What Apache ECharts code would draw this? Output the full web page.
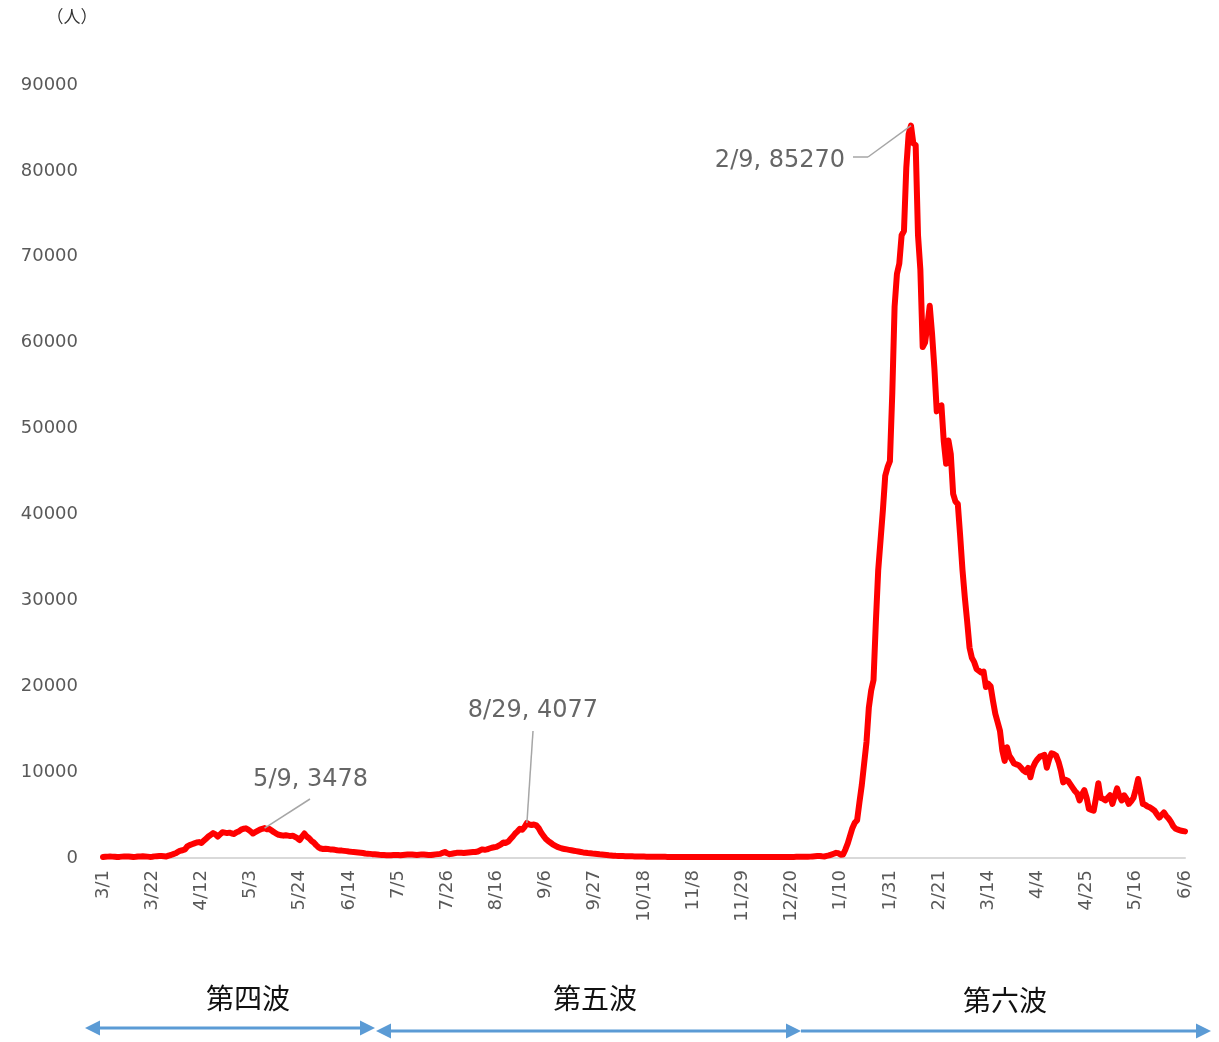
<!DOCTYPE html>
<html><head><meta charset="utf-8">
<script src="https://cdn.jsdelivr.net/npm/echarts@6/dist/echarts.min.js"></script>
<style>html,body{margin:0;padding:0;background:#fff}#c{width:1219px;height:1042px}</style>
</head><body><div id="c"></div>
<script>
// daily values, one array per month (2021/3/1 .. 2022/6/6)
const m2021_03 = [120,150,160,170,160,140,110,130,160,170,180,170,150,120,140,170,180,190,180,160,130,150,190,210,230,220,200,170,280,350,450];
const m2021_04 = [550,700,850,900,1000,1350,1500,1600,1700,1800,1850,1750,2000,2250,2500,2700,2900,2750,2500,2750,3000,2950,2900,2950,2850,2800,3000,3100,3300,3400];
const m2021_05 = [3450,3300,3100,2850,3000,3150,3300,3400,3478,3350,3400,3200,3000,2850,2700,2650,2600,2650,2600,2550,2600,2450,2300,2100,2500,2850,2500,2300,2000,1800,1500];
const m2021_06 = [1250,1100,1050,1080,1050,1000,980,950,900,880,860,830,800,750,720,700,680,650,620,580,520,500,480,450,430,400,370,350,340,330];
const m2021_07 = [320,330,350,360,340,320,350,380,400,420,400,380,360,390,420,400,380,360,340,380,420,450,480,600,700,550,450,500,550,600,620];
const m2021_08 = [600,580,620,650,680,700,700,750,900,1000,950,1000,1100,1200,1250,1300,1450,1600,1800,1750,1900,2200,2500,2850,3100,3400,3300,3600,4077,3900,3850];
const m2021_09 = [3900,3800,3500,3000,2600,2250,2000,1800,1600,1450,1300,1200,1100,1050,1000,950,900,850,800,750,700,650,620,580,550,520,500,470,430,400];
const m2021_10 = [370,340,310,290,270,250,240,230,220,210,200,195,190,185,180,175,170,165,160,155,150,148,145,140,138,135,132,130,128,126,124];
const m2021_11 = [122,120,118,120,122,118,115,112,115,118,120,116,112,110,112,115,118,114,110,108,110,112,115,112,108,106,108,110,112,110];
const m2021_12 = [108,110,112,115,112,108,110,114,118,116,112,110,114,118,120,118,115,118,122,126,130,135,140,145,150,155,150,160,180,200,220];
const m2022_01 = [230,200,180,240,300,400,500,600,550,380,400,1000,1700,2600,3500,4100,4400,6500,8500,11000,13500,17500,19500,20700,27500,33500,37000,40500,44500,45500,46200];
const m2022_02 = [54000,64200,68000,69200,72500,73000,80400,84300,85270,83200,83000,72500,68500,59500,60000,62000,64300,61000,57000,52000,52500,52700,48500,45900,48600,47000,42400,41500];
const m2022_03 = [41200,37500,33500,30300,27500,24500,23300,22800,22000,21800,21600,21700,19900,20300,20000,18300,16800,15800,14800,12500,11300,12900,11900,11500,11000,10900,10800,10500,10200,10000,10500];
const m2022_04 = [9400,10500,11100,11500,11800,11900,12000,10500,11500,12200,12100,11900,11200,10200,8800,9100,9000,8600,8200,7800,7500,6700,7400,7900,7000,5700,5600,5500,7000,8700];
const m2022_05 = [7000,6900,6700,7000,7300,6300,7200,8100,7200,6700,7300,6900,6300,6600,7000,8000,9200,7800,6300,6200,6000,5900,5700,5500,5100,4700,5000,5300,4900,4600,4200];
const m2022_06 = [3700,3400,3300,3200,3150,3100];

const values = [].concat(m2021_03, m2021_04, m2021_05, m2021_06, m2021_07, m2021_08, m2021_09,
  m2021_10, m2021_11, m2021_12, m2022_01, m2022_02, m2022_03, m2022_04, m2022_05, m2022_06);

const categories = [];
(function () {
  const d = new Date(2021, 2, 1, 12);
  for (let i = 0; i < values.length; i++) {
    categories.push(d.getFullYear() + '/' + (d.getMonth() + 1) + '/' + d.getDate());
    d.setDate(d.getDate() + 1);
  }
})();

const yTicks = [0, 10000, 20000, 30000, 40000, 50000, 60000, 70000, 80000, 90000];
const peakDates = ['2021/5/9', '2021/8/29', '2022/2/9'];
const waveNames = ['第四波', '第五波', '第六波'];
const unitLabel = '（人）';

const shortDate = s => { const p = s.split('/'); return p[1] + '/' + p[2]; };

// label placement relative to the marked point (layout only)
const labelShift = [{ dx: 46, dy: -31 }, { dx: 6, dy: -95 }, { dx: -131, dy: 53 }];
// leader line ends in screen pixels (layout only)
const leaderEnds = [[310, 799], [533, 731], [868, 157]];

const peakData = peakDates.map(d => {
  const i = categories.indexOf(d);
  return { value: [i, values[i]], name: d };
});

const leaderLines = peakDates.map((d, k) => [
  { coord: [categories.indexOf(d), values[categories.indexOf(d)]] },
  { x: leaderEnds[k][0], y: leaderEnds[k][1] }
]);
leaderLines.push([{ x: 868, y: 157 }, { x: 853, y: 157 }]);

const chart = echarts.init(document.getElementById('c'));
const blue = '#5b9bd5';
function arrowHead(tipX, y, dir) {
  return { type: 'polygon', shape: { points: [[tipX, y], [tipX - dir * 15, y - 7.5], [tipX - dir * 15, y + 7.5]] }, style: { fill: blue } };
}
chart.setOption({
  animation: false,
  grid: { left: 103, right: 34, top: 85, bottom: 184 },
  xAxis: {
    type: 'category',
    data: categories,
    boundaryGap: false,
    axisLine: { show: true, lineStyle: { color: '#d9d9d9', width: 2 } },
    axisTick: { show: false },
    splitLine: { show: false },
    axisLabel: {
      interval: 20, rotate: 90, margin: 12, color: '#595959', fontSize: 18,
      fontFamily: 'DejaVu Sans', formatter: v => shortDate(v)
    }
  },
  yAxis: {
    type: 'value', min: yTicks[0], max: yTicks[yTicks.length - 1], interval: 10000,
    axisLine: { show: false }, axisTick: { show: false }, splitLine: { show: false },
    axisLabel: { margin: 25, color: '#595959', fontSize: 18, fontFamily: 'DejaVu Sans', formatter: v => String(v) }
  },
  series: [
    {
      type: 'line', data: values, showSymbol: false, smooth: false,
      lineStyle: { color: '#ff0000', width: 6, join: 'round', cap: 'round' },
      itemStyle: { color: '#ff0000' }, z: 2
    },
    {
      type: 'scatter', data: peakData, symbolSize: 1, itemStyle: { color: '#ff0000' }, z: 3,
      label: {
        show: true, position: 'top', distance: 5, fontSize: 24, color: '#404040',
        fontFamily: 'DejaVu Sans',
        formatter: p => shortDate(p.name) + ', ' + p.value[1]
      },
      labelLayout: p => labelShift[p.dataIndex],
      markLine: {
        silent: true, symbol: 'none', animation: false,
        label: { show: false },
        lineStyle: { color: '#a6a6a6', width: 1.5, type: 'solid' },
        data: leaderLines
      }
    }
  ],
  graphic: [
    { type: 'text', x: 72, y: 17, style: { text: unitLabel, fontSize: 17, fill: '#333', fontFamily: 'Noto Sans CJK JP', textAlign: 'center', textVerticalAlign: 'middle' } },
    { type: 'text', x: 248, y: 998, style: { text: waveNames[0], fontSize: 28, fill: '#111', fontFamily: 'Noto Sans CJK JP', textAlign: 'center', textVerticalAlign: 'middle' } },
    { type: 'text', x: 595, y: 998, style: { text: waveNames[1], fontSize: 28, fill: '#111', fontFamily: 'Noto Sans CJK JP', textAlign: 'center', textVerticalAlign: 'middle' } },
    { type: 'text', x: 1005, y: 1000, style: { text: waveNames[2], fontSize: 28, fill: '#111', fontFamily: 'Noto Sans CJK JP', textAlign: 'center', textVerticalAlign: 'middle' } },
    { type: 'line', shape: { x1: 98, y1: 1028, x2: 362, y2: 1028 }, style: { stroke: blue, lineWidth: 3 } },
    arrowHead(85, 1028, -1), arrowHead(375, 1028, 1),
    { type: 'line', shape: { x1: 389, y1: 1031, x2: 788, y2: 1031 }, style: { stroke: blue, lineWidth: 3 } },
    arrowHead(376, 1031, -1), arrowHead(801, 1031, 1),
    { type: 'line', shape: { x1: 801, y1: 1031, x2: 1198, y2: 1031 }, style: { stroke: blue, lineWidth: 3 } },
    arrowHead(1211, 1031, 1)
  ]
});
</script></body></html>
